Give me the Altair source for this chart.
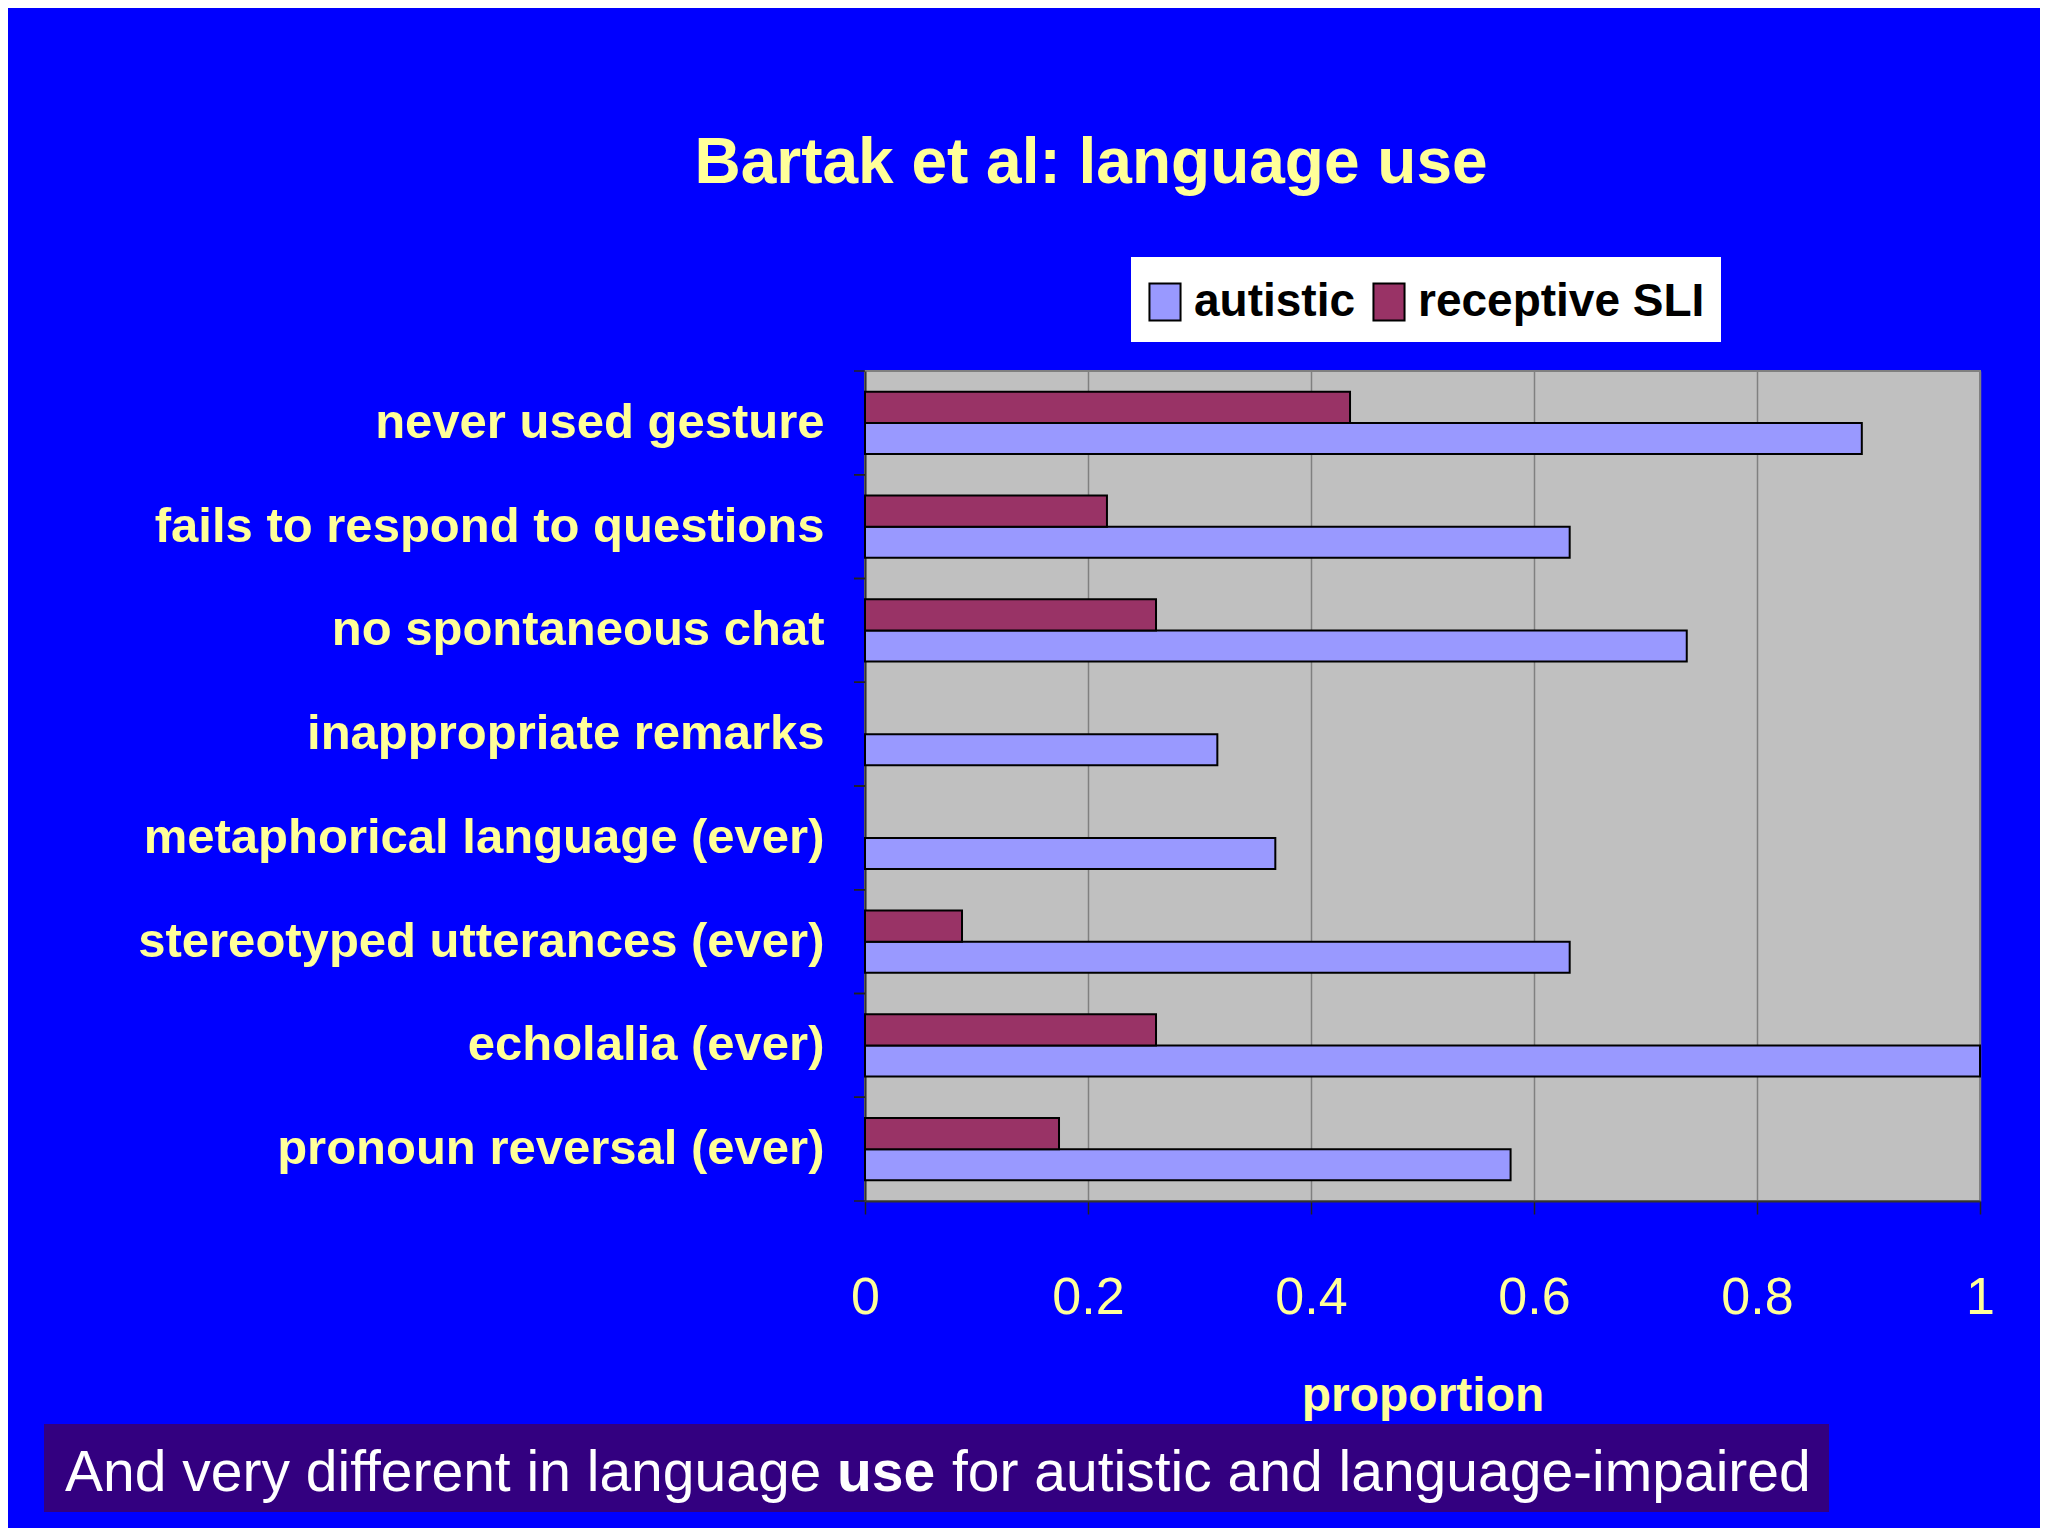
import altair as alt
import pandas as pd

categories = [
    "never used gesture",
    "fails to respond to questions",
    "no spontaneous chat",
    "inappropriate remarks",
    "metaphorical language (ever)",
    "stereotyped utterances (ever)",
    "echolalia (ever)",
    "pronoun reversal (ever)",
]
autistic = [0.894, 0.632, 0.737, 0.316, 0.368, 0.632, 1.0, 0.579]
receptive_sli = [0.435, 0.217, 0.261, 0.0, 0.0, 0.087, 0.261, 0.174]
series = ["autistic", "receptive SLI"]
series_colors = ["#9999FF", "#993366"]
x_ticks = [0, 0.2, 0.4, 0.6, 0.8, 1]

title_text = "Bartak et al: language use"
x_title = "proportion"
banner_parts = ["And very different in language", "use", "for autistic and language-impaired"]

rows = []
for c, a, s in zip(categories, autistic, receptive_sli):
    rows.append({"category": c, "series": "autistic", "value": a})
    rows.append({"category": c, "series": "receptive SLI", "value": s})
df = pd.DataFrame(rows)
cat_df = pd.DataFrame({"category": categories})

W, H = 1115, 830
FONT = "Liberation Sans, Arial, sans-serif"
YEL = "#FFFF99"

one = alt.Data(values=[{"a": 1}])

# white legend box (drawn behind the legend)
legend_box = alt.Chart(one).mark_rect(color="white").encode(
    x=alt.value(266), x2=alt.value(856), y=alt.value(-114), y2=alt.value(-29)
)

bars = alt.Chart(df).transform_filter("datum.value > 0").mark_bar(
    stroke="black", strokeWidth=2
).encode(
    x=alt.X("value:Q", scale=alt.Scale(domain=[0, 1]),
            axis=alt.Axis(values=x_ticks, format="~g", title=x_title,
                          labelFont=FONT, labelFontSize=52, labelColor=YEL,
                          labelFlush=False,
                          labelBaseline="middle", labelPadding=83,
                          tickSize=13, tickColor="#222222", tickWidth=1.5,
                          domainColor="#333333", domainWidth=2,
                          grid=True, gridColor="#808080", gridWidth=1.5,
                          titleFont=FONT, titleFontSize=48, titleFontWeight="bold",
                          titleColor=YEL, titleBaseline="alphabetic", titleY=209)),
    y=alt.Y("category:N", sort=categories,
            scale=alt.Scale(paddingInner=0.4, paddingOuter=0.2),
            axis=alt.Axis(title=None, ticks=False, labelPadding=41,
                          labelFont=FONT, labelFontSize=49, labelFontWeight="bold",
                          labelColor=YEL, labelLimit=900,
                          domainColor="#333333", domainWidth=2)),
    yOffset=alt.YOffset("series:N", sort=["receptive SLI", "autistic"]),
    color=alt.Color("series:N", scale=alt.Scale(domain=series, range=series_colors),
                    legend=alt.Legend(title=None, orient="none", legendX=277, legendY=-92,
                                      direction="horizontal",
                                      padding=0, columnPadding=10, labelOffset=6,
                                      symbolType="M-0.84,-1H0.84V1H-0.84Z", symbolSize=1369,
                                      symbolStrokeColor="black", symbolStrokeWidth=2,
                                      labelFont=FONT, labelFontSize=46, labelLimit=600,
                                      labelFontWeight="bold", labelColor="black")),
)

tick_scale = alt.Scale(domain=categories, paddingInner=0, paddingOuter=0)
yticks0 = alt.Chart(cat_df).mark_rule(color="#222222", strokeWidth=1.5).encode(
    y=alt.Y("category:N", sort=categories, scale=tick_scale, bandPosition=0, axis=None),
    x=alt.value(-11), x2=alt.value(0),
)
yticks1 = alt.Chart(cat_df).mark_rule(color="#222222", strokeWidth=1.5).encode(
    y=alt.Y("category:N", sort=categories, scale=tick_scale, bandPosition=1, axis=None),
    x=alt.value(-11), x2=alt.value(0),
)

title_layer = alt.Chart(one).mark_text(
    text=title_text, font=FONT, fontSize=64, fontWeight="bold", color=YEL,
    align="center", baseline="alphabetic"
).encode(x=alt.value(226), y=alt.value(-188))

banner = alt.Chart(one).mark_rect(color="#330080").encode(
    x=alt.value(-821), x2=alt.value(964), y=alt.value(1053), y2=alt.value(1141)
)
b1 = alt.Chart(one).mark_text(text=banner_parts[0], font=FONT, fontSize=57, color="white",
                              align="left", baseline="alphabetic").encode(
    x=alt.value(-800), y=alt.value(1120))
b2 = alt.Chart(one).mark_text(text=banner_parts[1], font=FONT, fontSize=57, color="white",
                              fontWeight="bold", align="left", baseline="alphabetic").encode(
    x=alt.value(-28), y=alt.value(1120))
b3 = alt.Chart(one).mark_text(text=banner_parts[2], font=FONT, fontSize=57, color="white",
                              align="left", baseline="alphabetic").encode(
    x=alt.value(87), y=alt.value(1120))

chart = alt.layer(legend_box, bars, yticks0, yticks1, title_layer, banner, b1, b2, b3).resolve_scale(
    y="independent"
).properties(
    width=W, height=H,
    padding={"left": 857, "top": 363, "right": 60, "bottom": 327},
    autosize=alt.AutoSizeParams(type="none"),
    background="#0000FF",
).configure_view(stroke="#808080", strokeWidth=2, fill="#C0C0C0")

chart.save("out.html", embed_options={"renderer": "svg", "actions": False})
